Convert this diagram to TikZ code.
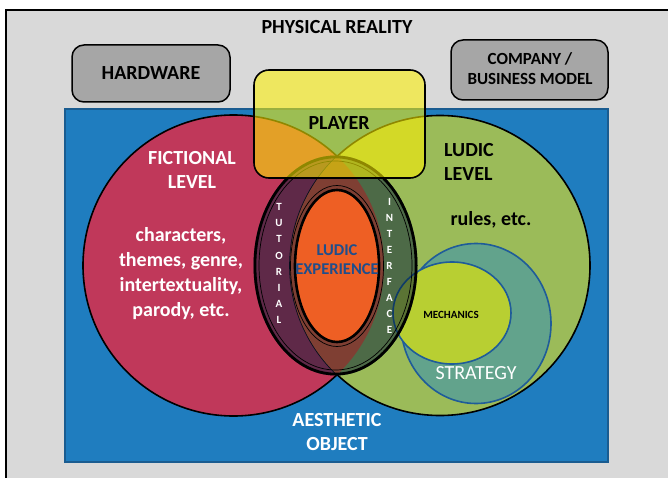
\documentclass[tikz,border=0pt]{standalone}
\usepackage{fontspec}
\setmainfont{Carlito}
\definecolor{bggray}{HTML}{D9D9D9}
\definecolor{boxgray}{HTML}{A6A6A6}
\definecolor{aeblue}{HTML}{1F7DBF}
\definecolor{aebluedark}{HTML}{1A5C90}
\definecolor{ficred}{HTML}{C0385A}
\definecolor{ludgreen}{HTML}{9BBB59}
\definecolor{navyov}{HTML}{001B37}
\definecolor{lensbrown}{HTML}{7F3F33}
\definecolor{expor}{HTML}{EE5F24}
\definecolor{expblue}{HTML}{1F4E8C}
\definecolor{strteal}{HTML}{62A38C}
\definecolor{mechyel}{HTML}{B8CF32}
\definecolor{circblue}{HTML}{1F5C99}
\tikzset{
  graybox/.style={draw=black, line width=1.5pt, fill=boxgray, rounded corners=12pt},
  bigtxt/.style={font=\fontsize{20}{24}\selectfont\bfseries, align=center, inner sep=0pt},
  midtxt/.style={font=\fontsize{17}{20}\selectfont\bfseries, align=center, inner sep=0pt},
  lettxt/.style={font=\fontsize{11}{16.1}\selectfont\bfseries, text=white, align=center, inner sep=0pt},
  levelcirc/.style={draw=black, line width=1.6pt},
  bluecirc/.style={draw=circblue, line width=1.6pt}
}
\begin{document}
\begin{tikzpicture}[x=1pt,y=-1pt]
\useasboundingbox (0,0) rectangle (668,478);
% outer physical reality frame
\begin{scope}
\clip (0,0) rectangle (668,478);
\draw[fill=bggray, line width=1.6pt] (6,10) rectangle (690,500);
\end{scope}
\node[bigtxt] (phys) at (337,27) {PHYSICAL REALITY};
% top boxes
\draw[graybox] (72,45) rectangle (230,102);
\node[bigtxt] (hw) at (151,73.5) {HARDWARE};
\draw[graybox] (451,40) rectangle (608,100);
\node[midtxt] (comp) at (530,69) {COMPANY /\\BUSINESS MODEL};
% aesthetic object
\draw[fill=aeblue, draw=aebluedark, line width=1.3pt] (65,109) rectangle (608,462);
% fictional and ludic levels
\draw[levelcirc, fill=ficred] (233.5,265.5) circle[radius=150.5pt];
\draw[levelcirc, fill=ludgreen] (440,265.5) circle[radius=150pt];
% strategy and mechanics
\draw[bluecirc, fill=strteal] (476,323.5) ellipse[x radius=75pt, y radius=80pt];
\draw[bluecirc, fill=mechyel] (452,313) ellipse[x radius=59pt, y radius=51pt];
% tutorial / interface ellipse overlay
\fill[navyov, fill opacity=0.5] (335.5,265.5) ellipse[x radius=82pt, y radius=110pt];
\begin{scope}
\clip (335.5,265.5) ellipse[x radius=82pt, y radius=110pt];
\clip (233.5,265.5) circle[radius=150.5pt];
\fill[lensbrown] (440,265.5) circle[radius=150pt];
\end{scope}
\draw[black, line width=2.8pt] (335.5,265.5) ellipse[x radius=80.6pt, y radius=108.6pt];
\draw[black, line width=0.7pt] (335.5,265.5) ellipse[x radius=76.5pt, y radius=104.5pt];
% ludic experience
\draw[black, line width=0.7pt] (337,266) ellipse[x radius=46.5pt, y radius=80.5pt];
\draw[black, line width=2.6pt, fill=expor] (337,266) ellipse[x radius=42pt, y radius=76pt];
% player box
\draw[draw=black, line width=1.6pt, fill=yellow, fill opacity=0.56, rounded corners=15pt] (254,70) rectangle (425,178);
% texts
\node[bigtxt] (player) at (339,123) {PLAYER};
\node[bigtxt, text=white] (fic) at (192,170) {FICTIONAL\\LEVEL};
\node[bigtxt, text=white, font=\fontsize{20}{25}\selectfont\bfseries] (ficlist) at (181,274) {characters,\\themes, genre,\\intertextuality,\\parody, etc.};
\node[bigtxt, align=left] (lud) at (469,162) {LUDIC\\LEVEL};
\node[bigtxt] (rules) at (491,220) {rules, etc.};
\node[lettxt] (tut) at (279,263.5) {T\\U\\T\\O\\R\\I\\A\\L};
\node[lettxt] (intf) at (389.5,266) {I\\N\\T\\E\\R\\F\\A\\C\\E};
\node[font=\fontsize{16.5}{19}\selectfont\bfseries, text=expblue, align=center, inner sep=0pt] (exp) at (337,260) {LUDIC\\EXPERIENCE};
\node[font=\fontsize{11}{13}\selectfont\bfseries, inner sep=0pt] (mech) at (451,315) {MECHANICS};
\node[font=\fontsize{20}{24}\selectfont, text=white, inner sep=0pt] (strat) at (476,373) {STRATEGY};
\node[bigtxt, text=white] (aes) at (337,432) {AESTHETIC\\OBJECT};
\end{tikzpicture}
\end{document}
